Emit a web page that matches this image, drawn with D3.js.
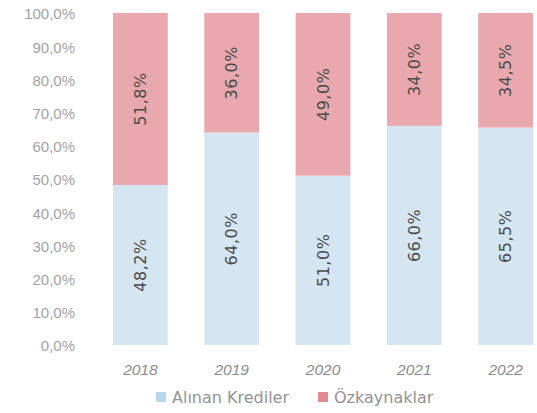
<!DOCTYPE html>
<html>
<head>
<meta charset="utf-8">
<script src="https://cdn.jsdelivr.net/npm/d3@7"></script>
<style>
  body { margin: 0; background: #fff; }
  svg { display: block; font-family: 'DejaVu Sans', 'Liberation Sans', sans-serif; }
</style>
</head>
<body>
<svg id="svg" width="537" height="413"></svg>
<script>
const years = ['2018', '2019', '2020', '2021', '2022']
const krediler = [48.2, 64.0, 51.0, 66.0, 65.5]
const ozkaynak = [51.8, 36.0, 49.0, 34.0, 34.5]
const yTicks = [0, 10, 20, 30, 40, 50, 60, 70, 80, 90, 100]
const seriesNames = ['Alınan Krediler', 'Özkaynaklar']
const colors = ['#d5e5f1', '#e9a8ad']

const $svg = d3.select('#svg')
const fmt = v => d3.format('.1f')(v).replace('.', ',') + '%'

const x = d3.scaleBand()
  .domain(years)
  .range([94.7, 551.3])
  .paddingInner(0.4)
  .paddingOuter(0.2)

const y = d3.scaleLinear()
  .domain([0, 100])
  .range([345, 13])

// y axis labels
const yAxis = $svg.append('g')
  .attr('transform', 'translate(75,1)')
  .call(d3.axisLeft(y).tickValues(yTicks).tickSize(0).tickPadding(0).tickFormat(fmt))
yAxis.select('.domain').remove()
yAxis.selectAll('text')
  .attr('fill', '#a3a3a3')
  .attr('font-size', 15)

// stacked data
const rows = years.map((yr, i) => ({ year: yr, k: krediler[i], o: ozkaynak[i] }))
const stack = d3.stack().keys(['k', 'o'])(rows)

const groups = $svg.append('g').selectAll('g')
  .data(stack)
  .join('g')
  .attr('fill', (d, i) => colors[i])

groups.selectAll('rect')
  .data(d => d)
  .join('rect')
  .attr('x', d => x(d.data.year))
  .attr('width', x.bandwidth())
  .attr('y', d => y(d[1]))
  .attr('height', d => y(d[0]) - y(d[1]))

// data labels, rotated
groups.selectAll('text')
  .data(d => d.map(v => ({ v, key: d.key })))
  .join('text')
  .attr('transform', d => {
    const cx = x(d.v.data.year) + x.bandwidth() / 2
    const cy = (y(d.v[0]) + y(d.v[1])) / 2
    return `translate(${cx},${cy}) rotate(-90)`
  })
  .attr('text-anchor', 'middle')
  .attr('dy', '0.35em')
  .attr('fill', '#4a4a4a')
  .attr('font-size', 16)
  .attr('letter-spacing', 0.5)
  .text(d => fmt(d.v.data[d.key]))

// x axis labels
const xAxis = $svg.append('g')
  .attr('transform', 'translate(0,364)')
  .call(d3.axisBottom(x).tickSize(0).tickPadding(0))
xAxis.select('.domain').remove()
xAxis.selectAll('text')
  .attr('fill', '#8c8c8c')
  .attr('font-size', 15.5)
  .attr('font-style', 'italic')

// legend
const legendX = [156, 318]
const legend = $svg.append('g').selectAll('g')
  .data(seriesNames)
  .join('g')
  .attr('transform', (d, i) => `translate(${legendX[i]},397)`)
legend.append('rect')
  .attr('x', 0)
  .attr('y', -5)
  .attr('width', 10)
  .attr('height', 10)
  .attr('fill', (d, i) => i === 0 ? '#b9d6ec' : '#e08a92')
legend.append('text')
  .attr('x', 16)
  .attr('dy', '0.35em')
  .attr('fill', '#939393')
  .attr('font-size', 16)
  .text(d => d)
</script>
</body>
</html>
